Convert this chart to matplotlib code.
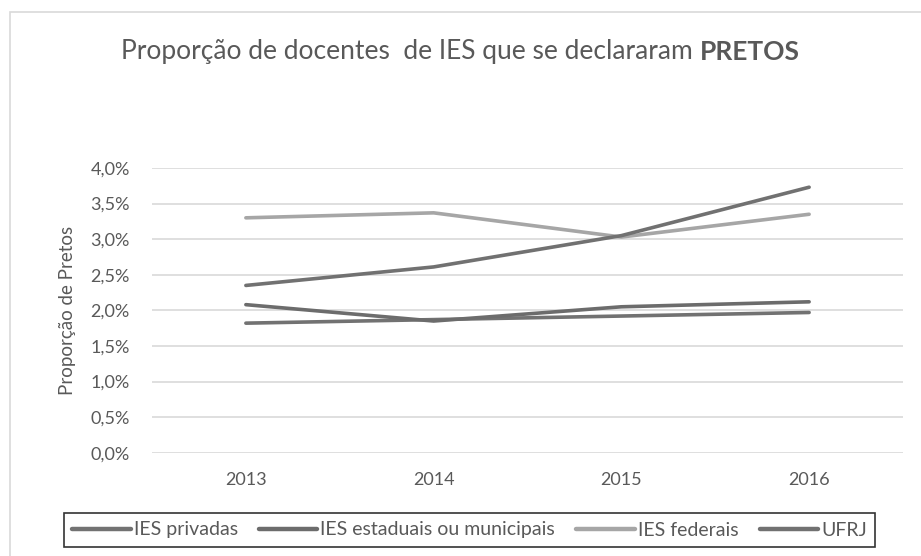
import matplotlib.pyplot as plt
from matplotlib.patches import Rectangle
from matplotlib.ticker import FuncFormatter

anos = ['2013', '2014', '2015', '2016']
privadas = [1.82, 1.87, 1.92, 1.97]
estaduais = [2.08, 1.85, 2.05, 2.12]
federais = [3.30, 3.37, 3.03, 3.35]
ufrj = [2.35, 2.61, 3.05, 3.73]
yticks = [0.0, 0.5, 1.0, 1.5, 2.0, 2.5, 3.0, 3.5, 4.0]

plt.rcParams['font.family'] = ['Lato', 'DejaVu Sans']
TXT = '#595959'

fig = plt.figure(figsize=(9.21, 5.56), dpi=100)
fig.patches.append(Rectangle((10 / 921, -0.05), 1.2, 1 - 12 / 556 + 0.05,
                             transform=fig.transFigure, fill=False,
                             edgecolor='#d9d9d9', lw=1.2))

ax = fig.add_axes([152 / 921, 1 - 452.7 / 556, 751 / 921, 284.7 / 556])
x = range(len(anos))
ax.plot(x, privadas, color='#727272', lw=2.6, label='IES privadas', solid_capstyle='round')
ax.plot(x, estaduais, color='#6c6c6c', lw=2.6, label='IES estaduais ou municipais', solid_capstyle='round')
ax.plot(x, federais, color='#a6a6a6', lw=2.6, label='IES federais', solid_capstyle='round')
ax.plot(x, ufrj, color='#717171', lw=2.6, label='UFRJ', solid_capstyle='round')

ax.set_xlim(-0.5, 3.5)
ax.set_ylim(0, 4.0)
ax.set_yticks(yticks)
ax.yaxis.set_major_formatter(FuncFormatter(lambda v, p: f'{v:.1f}%'.replace('.', ',')))
ax.set_xticks(list(x))
ax.set_xticklabels(anos)
ax.tick_params(length=0, labelsize=13, colors=TXT)
ax.tick_params(axis='x', pad=14)
ax.tick_params(axis='y', pad=16)
ax.grid(axis='y', color='#d9d9d9', lw=1.2)
ax.set_axisbelow(True)
for s in ax.spines.values():
    s.set_visible(False)
ax.set_ylabel('Proporção de Pretos', fontsize=13.5, color=TXT, labelpad=10)

# title: normal part + bold part, centred together
ty = 1 - 52 / 556
t1 = fig.text(0, ty, 'Proporção de docentes  de IES que se declararam ', ha='left',
              va='center', fontsize=19, color=TXT)
t2 = fig.text(0, ty, 'PRETOS', ha='left', va='center', fontsize=19,
              fontweight='bold', color=TXT)
fig.canvas.draw()
r = fig.canvas.get_renderer()
w1 = t1.get_window_extent(r).width
w2 = t2.get_window_extent(r).width
x0 = (921 - w1 - w2) / 2
t1.set_x(x0 / 921)
t2.set_x((x0 + w1) / 921)

leg = fig.legend(loc='center', ncol=4, bbox_to_anchor=(469.5 / 921, 1 - 530 / 556),
                 fontsize=14, frameon=True, fancybox=False, edgecolor='black',
                 handlelength=3.0, handletextpad=0.15, columnspacing=1.1,
                 borderpad=0.45)
leg.get_frame().set_linewidth(1.2)
for line in leg.get_lines():
    line.set_linewidth(3.2)
for t in leg.get_texts():
    t.set_color(TXT)

fig.savefig('out.png', dpi=100, facecolor='white')
